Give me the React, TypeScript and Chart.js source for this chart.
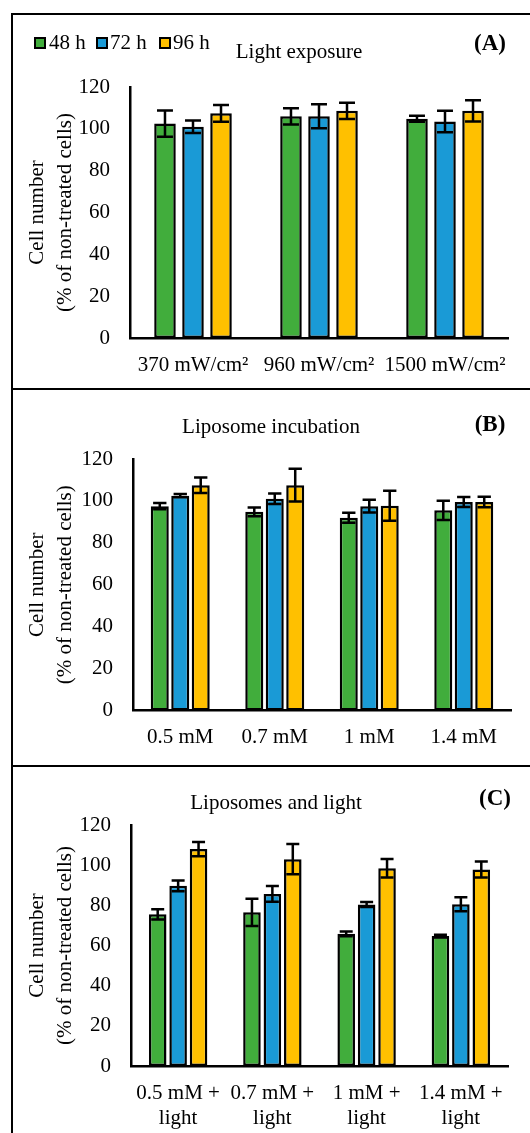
import React, { useEffect, useRef } from 'react';
import { Chart, registerables } from 'chart.js';

Chart.register(...registerables);

// ---------- data ----------
const seriesLabels = ['48 h', '72 h', '96 h'];
const seriesColors = ['#41AD3C', '#1A9AD6', '#FFC000'];
const yMin = 0;
const yMax = 120;
const yStep = 20;

const catsA = ['370 mW/cm²', '960 mW/cm²', '1500 mW/cm²'];
const a48 = [102.5, 106, 104.8];
const a48Err = [6.3, 3.9, 1.4];
const a72 = [101, 106, 103.5];
const a72Err = [3, 5.7, 5.1];
const a96 = [107.4, 108.6, 108.6];
const a96Err = [4, 3.9, 5.1];

const catsB = ['0.5 mM', '0.7 mM', '1 mM', '1.4 mM'];
const b48 = [97.5, 94.8, 92, 95.5];
const b48Err = [1.5, 2.1, 2.4, 4.6];
const b72 = [102.5, 101, 97.5, 99.5];
const b72Err = [0.8, 2.5, 3, 2.4];
const b96 = [107.5, 107.5, 97.7, 99.5];
const b96Err = [3.7, 7.8, 7.2, 2.5];

const catsC = [
  ['0.5 mM +', 'light'],
  ['0.7 mM +', 'light'],
  ['1 mM +', 'light'],
  ['1.4 mM +', 'light'],
];
const c48 = [75.5, 76.5, 65.8, 64.7];
const c48Err = [2.6, 6.8, 1.2, 0.7];
const c72 = [89.7, 85.7, 80.4, 80.5];
const c72Err = [2.7, 3.9, 1.2, 3.5];
const c96 = [108, 103, 98.5, 97.8];
const c96Err = [3.5, 7.5, 4.6, 4];

const yTitle = ['Cell number', '(% of non-treated cells)'];

const FONT = "'Liberation Serif', 'Times New Roman', Times, serif";
const FS = 21;
const CANVAS_LEFT = 13;

type PanelDef = {
  cats: any[];
  values: number[][];
  errors: number[][];
  pageTop: number;
  height: number;
  area: { left: number; right: number; top: number; bottom: number };
  catPct: number;
  barPct: number;
  title: string;
  titleX: number;
  titleY: number;
  tag: string;
  tagX: number;
  tagY: number;
  legend: boolean;
  xPad: number;
};

const WIDTH = 517;

const panels: PanelDef[] = [
  {
    cats: catsA,
    values: [a48, a72, a96],
    errors: [a48Err, a72Err, a96Err],
    pageTop: 15,
    height: 373,
    area: { left: 130, right: 508, top: 87, bottom: 338 },
    catPct: 0.667,
    barPct: 0.77,
    title: 'Light exposure',
    titleX: 299,
    titleY: 52,
    tag: '(A)',
    tagX: 490,
    tagY: 44,
    legend: true,
    xPad: 15,
  },
  {
    cats: catsB,
    values: [b48, b72, b96],
    errors: [b48Err, b72Err, b96Err],
    pageTop: 390,
    height: 375,
    area: { left: 133, right: 511, top: 459, bottom: 710.5 },
    catPct: 0.65,
    barPct: 0.88,
    title: 'Liposome incubation',
    titleX: 271,
    titleY: 427,
    tag: '(B)',
    tagX: 490,
    tagY: 425,
    legend: false,
    xPad: 14,
  },
  {
    cats: catsC,
    values: [c48, c72, c96],
    errors: [c48Err, c72Err, c96Err],
    pageTop: 767,
    height: 366,
    area: { left: 131, right: 508, top: 825, bottom: 1066 },
    catPct: 0.65,
    barPct: 0.86,
    title: 'Liposomes and light',
    titleX: 276,
    titleY: 803,
    tag: '(C)',
    tagX: 495,
    tagY: 799,
    legend: false,
    xPad: 15,
  },
];

const errorBarPlugin = {
  id: 'errorBars',
  afterDatasetsDraw(chart: any) {
    const ctx = chart.ctx;
    const y = chart.scales.y;
    chart.data.datasets.forEach((ds: any, i: number) => {
      const meta = chart.getDatasetMeta(i);
      meta.data.forEach((bar: any, j: number) => {
        const v = ds.data[j];
        const e = ds.errors[j];
        const top = y.getPixelForValue(v + e);
        const bot = y.getPixelForValue(v - e);
        const half = bar.width * 0.37;
        ctx.save();
        ctx.strokeStyle = '#000';
        ctx.lineWidth = 2.5;
        ctx.beginPath();
        ctx.moveTo(bar.x, top);
        ctx.lineTo(bar.x, bot);
        ctx.moveTo(bar.x - half, top);
        ctx.lineTo(bar.x + half, top);
        ctx.moveTo(bar.x - half, bot);
        ctx.lineTo(bar.x + half, bot);
        ctx.stroke();
        ctx.restore();
      });
    });
  },
};

function makeTextPlugin(p: PanelDef) {
  return {
    id: 'panelText',
    afterDraw(chart: any) {
      const ctx = chart.ctx;
      const ox = CANVAS_LEFT;
      const oy = p.pageTop;
      ctx.save();
      ctx.fillStyle = '#000';
      ctx.textBaseline = 'middle';
      ctx.font = `${FS}px ${FONT}`;
      ctx.textAlign = 'center';
      ctx.fillText(p.title, p.titleX - ox, p.titleY - oy);
      ctx.font = `bold ${FS + 2}px ${FONT}`;
      ctx.fillText(p.tag, p.tagX - ox, p.tagY - oy);
      if (p.legend) {
        const boxX = [35, 97, 160];
        const textX = [49, 110, 173];
        const ly = 43 - oy;
        ctx.font = `${FS}px ${FONT}`;
        ctx.textAlign = 'left';
        chart.data.datasets.forEach((ds: any, i: number) => {
          ctx.fillStyle = ds.backgroundColor;
          ctx.fillRect(boxX[i] - ox, ly - 5, 10, 10);
          ctx.strokeStyle = '#000';
          ctx.lineWidth = 2;
          ctx.strokeRect(boxX[i] - ox, ly - 5, 10, 10);
          ctx.fillStyle = '#000';
          ctx.fillText(ds.label, textX[i] - ox, ly);
        });
      }
      ctx.restore();
    },
  };
}

function Panel({ p }: { p: PanelDef }) {
  const ref = useRef<HTMLCanvasElement>(null);
  useEffect(() => {
    if (!ref.current) return;
    const areaLeft = p.area.left - CANVAS_LEFT;
    const areaRight = p.area.right - CANVAS_LEFT;
    const areaTop = p.area.top - p.pageTop;
    const areaBottom = p.area.bottom - p.pageTop;
    const chart = new Chart(ref.current, {
      type: 'bar',
      data: {
        labels: p.cats,
        datasets: seriesLabels.map((label, i) => ({
          label,
          data: p.values[i],
          errors: p.errors[i],
          backgroundColor: seriesColors[i],
          borderColor: '#000',
          borderWidth: 2.5,
          borderSkipped: false,
          categoryPercentage: p.catPct,
          barPercentage: p.barPct,
        })) as any,
      },
      options: {
        responsive: false,
        animation: false,
        devicePixelRatio: 1,
        layout: {
          padding: { left: 0, top: areaTop, right: WIDTH - areaRight, bottom: 0 },
        },
        plugins: {
          legend: { display: false },
          title: { display: false },
          tooltip: { enabled: false },
        },
        scales: {
          x: {
            grid: { display: false, drawTicks: false },
            border: { display: true, color: '#000', width: 2.5 },
            ticks: {
              color: '#000',
              font: { family: FONT, size: FS, lineHeight: 1.2 },
              padding: p.xPad,
              maxRotation: 0,
              autoSkip: false,
            },
            afterFit: (s: any) => {
              s.height = p.height - areaBottom;
            },
          },
          y: {
            min: yMin,
            max: yMax,
            grid: { display: false, drawTicks: false },
            border: { display: true, color: '#000', width: 2.5 },
            ticks: {
              stepSize: yStep,
              color: '#000',
              font: { family: FONT, size: FS },
              padding: 20,
            },
            title: {
              display: true,
              text: yTitle,
              color: '#000',
              font: { family: FONT, size: FS, lineHeight: 1.31 },
              padding: { top: 11, bottom: 0 },
            },
            afterFit: (s: any) => {
              s.width = areaLeft;
            },
          },
        },
      } as any,
      plugins: [errorBarPlugin, makeTextPlugin(p)],
    });
    return () => chart.destroy();
  }, [p]);
  return (
    <canvas
      ref={ref}
      width={WIDTH}
      height={p.height}
      style={{ position: 'absolute', left: CANVAS_LEFT, top: p.pageTop, width: WIDTH, height: p.height, display: 'block' }}
    />
  );
}

export default function App() {
  return (
    <div
      style={{
        position: 'absolute',
        left: 0,
        top: 0,
        width: 530,
        height: 1133,
        overflow: 'hidden',
        background: '#fff',
      }}
    >
      {panels.map((p, i) => (
        <Panel key={i} p={p} />
      ))}
      <div style={{ position: 'absolute', left: 11, top: 13, width: 2, height: 1120, background: '#000' }} />
      <div style={{ position: 'absolute', left: 11, top: 13, width: 519, height: 2, background: '#000' }} />
      <div style={{ position: 'absolute', left: 11, top: 388, width: 519, height: 2, background: '#000' }} />
      <div style={{ position: 'absolute', left: 11, top: 765, width: 519, height: 2, background: '#000' }} />
    </div>
  );
}
